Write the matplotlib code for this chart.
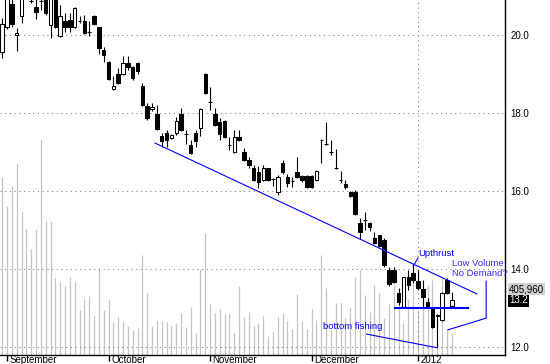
import matplotlib
matplotlib.use('Agg')
import numpy as np
import matplotlib.pyplot as plt
from matplotlib import transforms

plt.rcParams['font.family'] = ['Liberation Sans', 'DejaVu Sans']

# daily candles (price)
opens = [19.56, 20.21, 20.79, 20.01, 20.49, 21.05, 20.86, 20.72, 20.86, 21.00,
         20.26, 21.00, 19.97, 20.36, 20.38, 20.21, 20.36, 20.36, 20.08, 20.49,
         20.21, 19.62, 19.31, 18.62, 19.00, 19.00, 19.28, 19.18, 19.28, 18.69,
         18.18, 18.10, 17.97, 17.41, 17.49, 17.36, 17.49, 17.97, 17.46, 17.18,
         17.49, 17.61, 19.00, 18.28, 17.97, 17.77, 17.79, 17.18, 17.00, 17.38,
         17.00, 16.79, 16.59, 16.49, 16.28, 16.59, 16.31, 15.97, 16.72, 16.36,
         16.26, 16.49, 16.38, 16.38, 16.38, 16.28, 17.31, 17.20, 17.00, 16.59,
         16.28, 16.18, 15.97, 15.97, 15.18, 15.25, 15.18, 14.80, 14.87, 14.74,
         13.97, 13.97, 13.38, 13.03, 13.79, 13.90, 13.69, 13.49, 13.15, 13.00,
         12.80, 12.69, 13.72, 13.05]
highs = [20.44, 21.10, 20.95, 20.18, 21.05, 21.30, 21.00, 20.95, 21.00, 21.10,
         21.10, 21.10, 20.77, 20.56, 20.56, 20.72, 20.49, 20.51, 20.36, 20.51,
         20.21, 19.69, 19.33, 18.95, 19.15, 19.46, 19.46, 19.20, 19.30, 18.77,
         18.26, 18.26, 18.21, 17.49, 17.56, 17.46, 17.90, 18.13, 17.56, 17.30,
         17.56, 18.13, 19.02, 18.67, 18.13, 17.87, 17.82, 17.38, 17.56, 17.56,
         17.10, 16.87, 16.67, 16.64, 16.67, 16.60, 16.33, 16.40, 16.79, 16.44,
         16.36, 16.87, 16.41, 16.41, 16.41, 16.54, 17.33, 17.77, 17.31, 17.08,
         16.50, 16.28, 16.00, 16.03, 15.31, 15.46, 15.20, 14.95, 14.87, 14.80,
         14.05, 14.05, 13.51, 13.79, 13.97, 14.10, 13.97, 13.72, 13.26, 13.00,
         12.84, 13.41, 13.77, 13.41]
lows = [19.41, 20.15, 20.21, 19.59, 20.31, 20.95, 20.82, 20.41, 20.64, 20.50,
        19.92, 20.18, 19.95, 20.08, 20.08, 20.18, 20.31, 20.03, 19.97, 20.25,
        19.51, 19.31, 18.85, 18.60, 18.75, 18.97, 19.10, 18.85, 19.00, 18.18,
        17.82, 18.05, 17.56, 17.13, 17.13, 17.33, 17.44, 17.54, 17.20, 16.95,
        17.13, 17.41, 18.49, 18.08, 17.67, 17.31, 17.36, 17.05, 16.97, 17.28,
        16.77, 16.59, 16.26, 16.08, 16.26, 16.26, 16.13, 15.90, 16.44, 16.10,
        16.10, 16.33, 16.23, 16.08, 16.08, 16.26, 16.72, 17.18, 16.92, 16.56,
        16.20, 16.05, 15.85, 15.38, 14.77, 15.00, 14.97, 14.64, 14.56, 14.05,
        13.56, 13.64, 13.08, 13.03, 13.46, 13.64, 13.46, 13.03, 13.01, 12.49,
        12.00, 12.66, 13.36, 13.03]
closes = [20.28, 21.00, 20.28, 20.05, 21.00, 21.20, 20.88, 20.59, 20.88, 20.56,
          21.00, 20.21, 20.49, 20.21, 20.21, 20.69, 20.36, 20.05, 20.08, 20.28,
          19.67, 19.49, 18.87, 18.68, 18.77, 19.28, 19.18, 18.90, 19.08, 18.21,
          17.87, 18.15, 17.59, 17.28, 17.30, 17.43, 17.79, 17.56, 17.46, 16.97,
          17.28, 18.10, 18.51, 18.28, 17.69, 17.46, 17.38, 17.18, 17.38, 17.31,
          16.79, 16.67, 16.28, 16.23, 16.59, 16.28, 16.31, 16.36, 16.49, 16.21,
          16.26, 16.36, 16.28, 16.10, 16.10, 16.51, 17.31, 17.20, 17.00, 16.59,
          16.28, 16.10, 15.87, 15.41, 14.95, 15.25, 15.08, 14.67, 14.59, 14.10,
          13.61, 13.67, 13.15, 13.79, 13.59, 13.72, 13.51, 13.28, 13.03, 12.51,
          12.82, 13.38, 13.38, 13.20]
# daily volume (shares)
volumes = [3284000, 2749000, 3118000, 3543000, 2639000, 2325000, 1956000, 2307000, 3986000, 2473000,
           2454000, 1421000, 1347000, 1273000, 1439000, 1347000, 830000, 1033000, 1089000, 720000,
           1605000, 830000, 1033000, 609000, 701000, 609000, 535000, 461000, 498000, 1845000,
           1144000, 535000, 646000, 627000, 609000, 535000, 590000, 775000, 517000, 886000,
           406000, 1587000, 2251000, 941000, 775000, 849000, 757000, 775000, 406000, 1273000,
           701000, 793000, 535000, 590000, 720000, 351000, 424000, 701000, 775000, 627000,
           480000, 1126000, 627000, 480000, 849000, 646000, 1845000, 1236000, 461000, 960000,
           960000, 683000, 867000, 1439000, 1568000, 1107000, 793000, 1292000, 1144000, 683000,
           941000, 1292000, 1199000, 590000, 1033000, 1568000, 830000, 1144000, 1292000, 1384000,
           757000, 1421000, 480000, 405960]

month_pos = [1, 22, 43, 64, 86]
month_labels = ['September', 'October', 'November', 'December', '2012']
price_ticks = [12, 14, 16, 18, 20]

# hand drawn annotations (bar index, price)
trend_line = [(31.6, 17.23), (98.2, 13.36)]
support_line = [(81.2, 13.0), (96.3, 13.0)]
fishing_line = [(75.4, 12.33), (90.0, 11.98)]
upthrust_line = [(86.0, 14.28), (85.0, 14.07)]
demand_line = [(100.1, 13.69), (100.1, 12.74), (92.2, 12.44)]

o = np.array(opens)
h = np.array(highs)
l = np.array(lows)
c = np.array(closes)
x = np.arange(len(c))

fig = plt.figure(figsize=(5.5, 3.64), dpi=100)
ax = fig.add_axes([0, 9 / 364, 505 / 550, 355 / 364])
vax = ax.twinx()
ax.set_zorder(vax.get_zorder() + 1)
ax.patch.set_visible(False)

# volume behind the price
vax.vlines(x, 0, volumes, color='#c4c4c4', lw=0.9)
vax.set_ylim(0, 6.55e6)
vax.set_yticks([])
for s in vax.spines.values():
    s.set_visible(False)

# candles
up = c >= o
ax.vlines(x, l, h, color='black', lw=0.8, zorder=3)
ax.bar(x, np.abs(c - o), bottom=np.minimum(o, c), width=0.72,
       color=np.where(up, 'white', 'black'), edgecolor='black', lw=0.75, zorder=3)

ax.set_xlim(-0.455, 104.0)
ax.set_ylim(11.795, 20.897)

grid_style = dict(color='#808080', linestyle=(0, (1, 3.5)), lw=0.75)
for p in price_ticks:
    ax.axhline(p, zorder=1, **grid_style)
ax.axvline(month_pos[-1], zorder=1, **grid_style)

for side in ['top', 'left']:
    ax.spines[side].set_visible(False)
for side in ['right', 'bottom']:
    ax.spines[side].set_linewidth(1.0)
    ax.spines[side].set_color('black')

ax.yaxis.tick_right()
ax.set_yticks(price_ticks)
ax.set_yticklabels([f'{p:.1f}' for p in price_ticks])
ax.tick_params(axis='y', length=0, pad=4, labelsize=7)

ax.set_xticks(month_pos)
ax.set_xticklabels([])
ax.tick_params(axis='x', direction='out', length=4, width=1)
trans = transforms.blended_transform_factory(ax.transData, ax.transAxes)
trans = transforms.offset_copy(trans, fig=fig, x=2.5, y=-8, units='dots')
for pos, lab in zip(month_pos, month_labels):
    ax.text(pos, 0, lab, transform=trans, ha='left', va='baseline', fontsize=7,
            clip_on=False)

# last price / last volume boxes
ax.annotate(f'{closes[-1]:.1f}', xy=(1, closes[-1]), xycoords=('axes fraction', 'data'),
            xytext=(3, 0), textcoords='offset points', ha='left', va='center',
            fontsize=7, color='white', annotation_clip=False,
            bbox=dict(boxstyle='square,pad=0.15', fc='black', ec='none'))
ax.annotate(f'{volumes[-1]:,}', xy=(1, closes[-1]), xycoords=('axes fraction', 'data'),
            xytext=(3, 7.8), textcoords='offset points', ha='left', va='center',
            fontsize=7, color='black', annotation_clip=False,
            bbox=dict(boxstyle='square,pad=0.1', fc='#d0d0d0', ec='none'))

# annotations
blue = '#0000ff'
ax.plot(*zip(*trend_line), color=blue, lw=0.8, zorder=4)
ax.plot(*zip(*support_line), color=blue, lw=1.5, zorder=4)
ax.plot(*zip(*fishing_line), color=blue, lw=0.8, zorder=4, clip_on=False)
ax.plot(*zip(*upthrust_line), color=blue, lw=0.8, zorder=4)
ax.plot(*zip(*demand_line), color=blue, lw=0.8, zorder=4)
ax.text(66.3, 12.46, 'bottom fishing', color=blue, fontsize=6.8, va='baseline')
ax.text(86.0, 14.33, 'Upthrust', color=blue, fontsize=6.8, va='baseline')
ax.text(93.0, 14.08, 'Low Volume', color='#3a2bf0', fontsize=6.8, va='baseline')
ax.text(93.0, 13.82, 'No Demand?', color='#3a2bf0', fontsize=6.8, va='baseline')

fig.savefig('out.png', dpi=100)
